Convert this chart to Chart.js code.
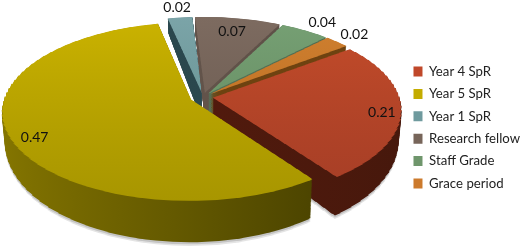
<!DOCTYPE html>
<html>
<head>
<meta charset="utf-8">
<script src="https://cdn.jsdelivr.net/npm/chart.js@4/dist/chart.umd.min.js"></script>
<style>
    html, body { margin: 0; padding: 0; background: #fff; }
    #wrap { width: 520px; height: 247px; overflow: hidden; }
</style>
</head>
<body>
<div id="wrap"><canvas id="pieChart" width="520" height="247"></canvas></div>
<script>
/* data */
const categories = ['Year 4 SpR', 'Year 5 SpR', 'Year 1 SpR', 'Research fellow', 'Staff Grade', 'Grace period'];
const shares = [0.21, 0.47, 0.02, 0.07, 0.04, 0.02];

/* colours per slice */
const legendColors = ['#c0482a', '#c4ac00', '#6f9a9e', '#77655a', '#6f966c', '#cc7a2c'];
const faceTop = ['#c44c2a', '#cab200', '#7ba4a8', '#7d6b60', '#76a074', '#d08030'];
const faceBottom = ['#a63e26', '#a89600', '#64908f', '#6a5a50', '#648a60', '#b86c20'];
const wallLeft = ['#5c1c0e', '#857600', '#28444a', '#6a5a50', '#5a7a60', '#6e4210'];
const wallRight = ['#46180c', '#3e3800', '#2e4c52', '#5a4c44', '#4c6a50', '#6e4210'];

/* how far each slice is pulled out, and where its label sits (1 = rim) */
const explode = [0.054, 0.07, 0.05, 0.05, 0.05, 0.05];
const labelRadius = [0.90, 0.87, 1.15, 0.80, 1.20, 1.15];
const labelDrop = [3, 5, 0, 0, 3, 0];

/* back slices first */
const drawOrder = [2, 3, 4, 5, 0, 1];

/* perspective of the tilted pie */
const centerX = 203, centerY = 97, sizeX = 186, sizeY = 87, tilt = 0.1346;

function perspective(Y) { return 1 / (1 - tilt * Y); }
function screenY(Y, t) { return centerY + sizeY * Y * perspective(Y) + t * (28 + 13 * Y); }

/* draws one arc through the perspective, one horizontal band at a time */
function drawArcBands(ctx, arc, index, t, fill) {
    const mid = (arc.startAngle + arc.endAngle) / 2;
    const ex = Math.cos(mid) * explode[index];
    const ey = Math.sin(mid) * explode[index];
    const R = arc.outerRadius;
    const orig = arc.options;
    const over = Object.create(orig);
    over.backgroundColor = fill;
    over.borderWidth = 0;
    arc.options = over;
    const step = 0.05;
    for (let Y0 = -1.25; Y0 < 1.25; Y0 += step) {
        const Y1 = Y0 + step;
        const y0 = screenY(Y0, t), y1 = screenY(Y1, t);
        const m = (y1 - y0) / step;
        const scaleX = sizeX * (1 - 0.015 * t) * perspective((Y0 + Y1) / 2);
        const a = scaleX / R;
        ctx.save();
        ctx.beginPath();
        ctx.rect(0, y0 - 0.4, 520, y1 - y0 + 0.8);
        ctx.clip();
        ctx.transform(a, 0, 0, m / R, centerX + scaleX * ex - a * arc.x, y0 + m * (ey - arc.y / R - Y0));
        arc.draw(ctx);
        ctx.restore();
    }
    arc.options = orig;
}

const pie3d = {
    id: 'pie3d',
    beforeDatasetDraw(chart, args) {
        const ctx = chart.ctx;
        const arcs = args.meta.data;
        const first = arcs[0];
        const R = first.outerRadius;
        // soft grey shadow under the two big slices
        [0, 1].forEach(i => {
            drawArcBands(ctx, arcs[i], i, 1.09, '#e4e4e4');
            drawArcBands(ctx, arcs[i], i, 1.05, '#c4c4c4');
        });
        drawOrder.forEach(i => {
            const wall = ctx.createLinearGradient(first.x - R, 0, first.x + R, 0);
            wall.addColorStop(0, wallLeft[i]);
            wall.addColorStop(1, wallRight[i]);
            const face = ctx.createLinearGradient(0, first.y - R, 0, first.y + R);
            face.addColorStop(0, faceTop[i]);
            face.addColorStop(1, faceBottom[i]);
            for (let k = 42; k >= 1; k--) {
                drawArcBands(ctx, arcs[i], i, k / 42, wall);
            }
            drawArcBands(ctx, arcs[i], i, 0, face);
        });
        return false; // already drawn
    },
    afterDatasetsDraw(chart) {
        const ctx = chart.ctx;
        const arcs = chart.getDatasetMeta(0).data;
        ctx.save();
        ctx.font = '14px Lato';
        ctx.fillStyle = '#111';
        ctx.textAlign = 'center';
        ctx.textBaseline = 'middle';
        arcs.forEach((arc, i) => {
            const mid = (arc.startAngle + arc.endAngle) / 2;
            const X = Math.cos(mid) * (labelRadius[i] + explode[i]);
            const Y = Math.sin(mid) * (labelRadius[i] + explode[i]);
            ctx.fillText(shares[i].toFixed(2), centerX + sizeX * X * perspective(Y), screenY(Y, 0) + labelDrop[i]);
        });
        ctx.restore();
    }
};

const pieChart = new Chart(document.getElementById('pieChart').getContext('2d'), {
    type: 'pie',
    data: {
        labels: categories,
        datasets: [{
            data: shares,
            backgroundColor: legendColors,
            borderWidth: 0
        }]
    },
    options: {
        responsive: false,
        animation: false,
        rotation: 53,
        layout: { padding: { top: 8, right: -10 } },
        plugins: {
            tooltip: { enabled: false },
            legend: {
                position: 'right',
                labels: {
                    boxWidth: 9,
                    boxHeight: 10,
                    padding: 9.2,
                    color: '#222',
                    font: { family: 'Lato', size: 13.2 }
                }
            }
        }
    },
    plugins: [pie3d]
});
</script>
</body>
</html>
